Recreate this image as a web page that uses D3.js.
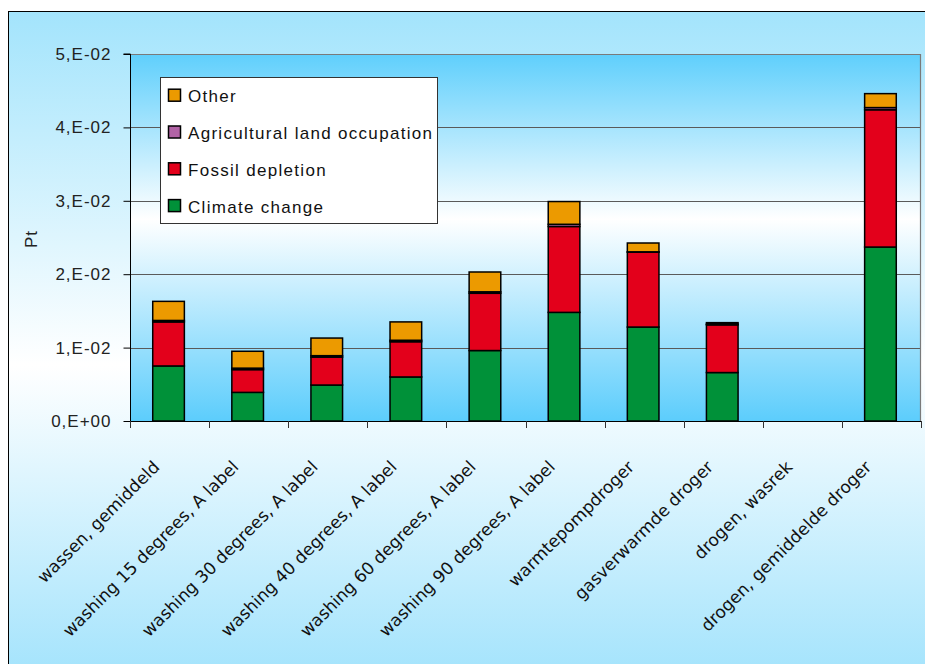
<!DOCTYPE html>
<html>
<head>
<meta charset="utf-8">
<script src="https://cdn.jsdelivr.net/npm/d3@7"></script>
<style>
  html, body { margin: 0; padding: 0; background: #ffffff; }
  svg { display: block; }
</style>
</head>
<body>
<svg id="chart" width="925" height="664"></svg>
<script>
// Categories along the x axis
const categories = [
  "wassen, gemiddeld",
  "washing 15 degrees, A label",
  "washing 30 degrees, A label",
  "washing 40 degrees, A label",
  "washing 60 degrees, A label",
  "washing 90 degrees, A label",
  "warmtepompdroger",
  "gasverwarmde droger",
  "drogen, wasrek",
  "drogen, gemiddelde droger"
];

// Series values (Pt), stacked bottom to top
const climateChange    = [0.0075, 0.0039, 0.0049, 0.0060, 0.0096, 0.0148, 0.0128, 0.0066, 0, 0.0237];
const fossilDepletion  = [0.0060, 0.0031, 0.0038, 0.0048, 0.0078, 0.0117, 0.0102, 0.0065, 0, 0.0187];
const agriculturalLand = [0.0002, 0.0002, 0.0002, 0.0002, 0.0002, 0.0003, 0.00005, 0.0001, 0, 0.0003];
const other            = [0.0026, 0.0023, 0.0024, 0.0025, 0.0027, 0.0031, 0.0012, 0.0002, 0, 0.0019];

const seriesNames  = ["Climate change", "Fossil depletion", "Agricultural land occupation", "Other"];
const seriesColors = ["#009139", "#e3001b", "#b263a6", "#ec9a00"];

// Y axis ticks and their labels
const yTickValues = [0, 0.01, 0.02, 0.03, 0.04, 0.05];
const yTickLabels = ["0,E+00", "1,E-02", "2,E-02", "3,E-02", "4,E-02", "5,E-02"];

const seriesValues = [climateChange, fossilDepletion, agriculturalLand, other];
const table = categories.map((c, i) => {
  const row = { category: c };
  seriesNames.forEach((s, k) => { row[s] = seriesValues[k][i]; });
  return row;
});

const svg = d3.select("#chart");
const plot = { left: 130, right: 921, top: 54, bottom: 421 };

const defs = svg.append("defs");
const outerGrad = defs.append("linearGradient")
  .attr("id", "outerGrad").attr("x1", 0).attr("y1", 0).attr("x2", 0).attr("y2", 1);
outerGrad.append("stop").attr("offset", 0).attr("stop-color", "#a3e4fc");
outerGrad.append("stop").attr("offset", 0.52).attr("stop-color", "#ffffff");
outerGrad.append("stop").attr("offset", 1).attr("stop-color", "#9fe2fc");

const plotGrad = defs.append("linearGradient")
  .attr("id", "plotGrad").attr("x1", 0).attr("y1", 0).attr("x2", 0).attr("y2", 1);
plotGrad.append("stop").attr("offset", 0).attr("stop-color", "#5fcffc");
plotGrad.append("stop").attr("offset", 0.45).attr("stop-color", "#ffffff");
plotGrad.append("stop").attr("offset", 1).attr("stop-color", "#5ccdfc");

// Chart area
svg.append("rect")
  .attr("x", 8.5).attr("y", 11.5).attr("width", 940).attr("height", 680)
  .attr("fill", "url(#outerGrad)").attr("stroke", "#000").attr("stroke-width", 1);

// Plot area
svg.append("rect")
  .attr("x", plot.left).attr("y", plot.top)
  .attr("width", plot.right - plot.left).attr("height", plot.bottom - plot.top)
  .attr("fill", "url(#plotGrad)");

const x = d3.scaleBand().domain(categories).range([plot.left, plot.right]).paddingInner(0).paddingOuter(0);
const y = d3.scaleLinear().domain([0, 0.05]).range([plot.bottom, plot.top]);

// Gridlines
svg.append("g").selectAll("line")
  .data(yTickValues.filter(v => v > 0))
  .join("line")
  .attr("x1", plot.left).attr("x2", plot.right)
  .attr("y1", d => Math.round(y(d)) + 0.5).attr("y2", d => Math.round(y(d)) + 0.5)
  .attr("stroke", "#5a5a5a").attr("stroke-width", 1);

// Plot border (top and right)
svg.append("path")
  .attr("d", `M${plot.left},${plot.top + 0.5}H${plot.right - 0.5}V${plot.bottom}`)
  .attr("fill", "none").attr("stroke", "#7a7a7a").attr("stroke-width", 1.2);

// Stacked bars
const stack = d3.stack().keys(seriesNames);
const stacked = stack(table);
const barW = x.bandwidth() * 0.4;

svg.append("g").selectAll("g")
  .data(stacked)
  .join("g")
  .attr("fill", (d, i) => seriesColors[i])
  .selectAll("rect")
  .data(d => d.filter(p => p[1] - p[0] > 0))
  .join("rect")
  .attr("x", d => x(d.data.category) + (x.bandwidth() - barW) / 2 - 1)
  .attr("width", barW)
  .attr("y", d => y(d[1]))
  .attr("height", d => y(d[0]) - y(d[1]))
  .attr("stroke", "#000").attr("stroke-width", 1.5);

const labelFont = "'Liberation Sans', Arial, sans-serif";

// Y axis
const yAxis = d3.axisLeft(y)
  .tickValues(yTickValues)
  .tickFormat((d, i) => yTickLabels[i])
  .tickSize(7).tickPadding(12);
const yg = svg.append("g").attr("transform", `translate(${plot.left + 0.5},0)`).call(yAxis);
yg.select(".domain").attr("stroke", "#000").attr("d", `M-7,${plot.top}H0V${plot.bottom + 7}`);
yg.selectAll(".tick line").attr("stroke", "#000");
yg.selectAll(".tick text")
  .attr("font-family", labelFont).attr("font-size", "17px")
  .attr("letter-spacing", "1px").attr("fill", "#222");

// X axis line and category ticks
svg.append("line")
  .attr("x1", plot.left).attr("x2", plot.right)
  .attr("y1", plot.bottom + 0.5).attr("y2", plot.bottom + 0.5)
  .attr("stroke", "#000").attr("stroke-width", 1);
const boundaries = categories.map(c => x(c)).concat([x.range()[1]]);
svg.append("g").selectAll("line")
  .data(boundaries)
  .join("line")
  .attr("x1", d => Math.round(d) + 0.5).attr("x2", d => Math.round(d) + 0.5)
  .attr("y1", plot.bottom).attr("y2", plot.bottom + 7)
  .attr("stroke", "#333").attr("stroke-width", 1);

// Category labels
svg.append("g").selectAll("text")
  .data(categories)
  .join("text")
  .attr("transform", d => `translate(${x(d) + x.bandwidth() / 2 - 9},${plot.bottom + 47}) rotate(-45)`)
  .attr("text-anchor", "end")
  .attr("font-family", "'DejaVu Sans', Verdana, sans-serif")
  .attr("font-size", "17px")
  .attr("fill", "#111")
  .text(d => d);

// Y axis title
svg.append("text")
  .attr("transform", "translate(37,239) rotate(-90)")
  .attr("text-anchor", "middle")
  .attr("font-family", labelFont).attr("font-size", "17px")
  .attr("letter-spacing", "1px").attr("fill", "#222")
  .text("Pt");

// Legend
const legend = svg.append("g");
legend.append("rect")
  .attr("x", 160.5).attr("y", 77.5).attr("width", 277).attr("height", 146)
  .attr("fill", "#fff").attr("stroke", "#333").attr("stroke-width", 1);
const legendOrder = [3, 2, 1, 0];
const legendRows = legend.selectAll("g.row")
  .data(legendOrder)
  .join("g").attr("class", "row")
  .attr("transform", (d, i) => `translate(0,${95.7 + i * 36.8})`);
legendRows.append("rect")
  .attr("x", 168.5).attr("y", -6.5).attr("width", 12).attr("height", 12)
  .attr("fill", d => seriesColors[d]).attr("stroke", "#000").attr("stroke-width", 1.5);
legendRows.append("text")
  .attr("x", 188).attr("y", 6.5)
  .attr("font-family", labelFont).attr("font-size", "17px")
  .attr("letter-spacing", "1.3px").attr("fill", "#111")
  .text(d => seriesNames[d]);
</script>
</body>
</html>
